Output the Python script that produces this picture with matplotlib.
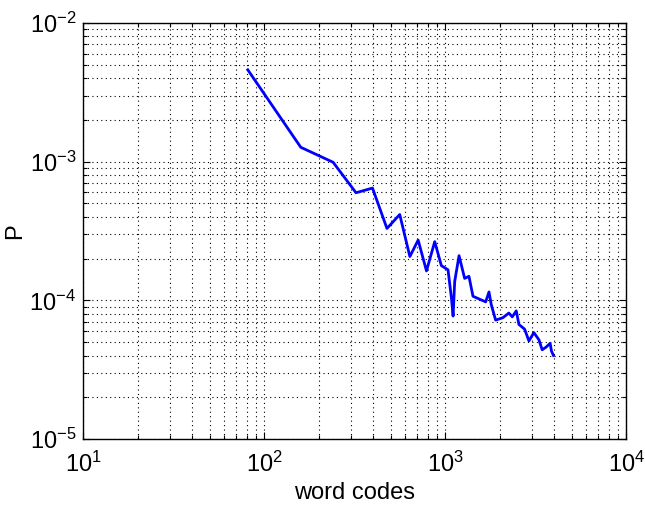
import matplotlib.pyplot as plt
import numpy as np

plt.rcParams['font.family'] = ['Liberation Sans', 'DejaVu Sans']
plt.rcParams['mathtext.default'] = 'regular'

# word code vs probability
codes = [81, 159, 240, 321, 396, 476, 560, 637, 708, 787, 874, 951, 1035,
         1081, 1104, 1127, 1191, 1279, 1351, 1422, 1671, 1743, 1795, 1897,
         2081, 2245, 2344, 2466, 2551, 2742, 2897, 3086, 3289, 3430, 3606,
         3793, 3862, 3960]
probs = [4.6e-3, 1.27e-3, 9.9e-4, 5.97e-4, 6.45e-4, 3.3e-4, 4.16e-4, 2.07e-4,
         2.72e-4, 1.63e-4, 2.65e-4, 1.78e-4, 1.66e-4, 1.04e-4, 7.7e-5, 1.37e-4,
         2.1e-4, 1.44e-4, 1.49e-4, 1.07e-4, 9.75e-5, 1.15e-4, 9.3e-5, 7.2e-5,
         7.5e-5, 8.1e-5, 7.6e-5, 8.4e-5, 6.7e-5, 6.2e-5, 5.1e-5, 5.85e-5,
         5.2e-5, 4.4e-5, 4.6e-5, 4.9e-5, 4.3e-5, 4.0e-5]

fig = plt.figure(figsize=(6.45, 5.07), dpi=100)
ax = fig.add_axes([0.1292, 0.1341, 0.8418, 0.8205])

ax.loglog(codes, probs, '-', color='#0000ff', linewidth=2)

ax.set_xlim(1e1, 1e4)
ax.set_ylim(1e-5, 1e-2)

# MATLAB-like dotted grid on major and minor ticks
ax.grid(True, which='both', color='k', linestyle=(0, (1, 3)), linewidth=0.8)
ax.tick_params(which='both', direction='in', top=True, right=True,
               labelsize=17, width=0.8)
ax.tick_params(which='major', length=5)
ax.tick_params(which='minor', length=3)
ax.tick_params(axis='x', which='major', pad=9)
ax.tick_params(axis='y', which='major', pad=5)
for s in ax.spines.values():
    s.set_linewidth(1.0)

ax.set_xlabel('word codes', fontsize=17, labelpad=4)
ax.set_ylabel('P', fontsize=17)
ax.yaxis.set_label_coords(-0.105, 0.5)

fig.savefig('out.png', dpi=100)
